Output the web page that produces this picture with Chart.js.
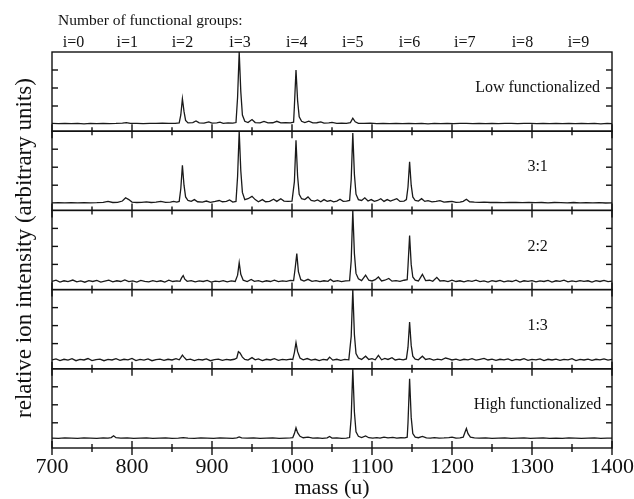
<!DOCTYPE html>
<html>
<head>
<meta charset="utf-8">
<script src="https://cdn.jsdelivr.net/npm/chart.js@4.4.1/dist/chart.umd.min.js"></script>
<style>
  html, body { margin: 0; padding: 0; background: #fff; }
  #wrap { width: 634px; height: 499px; position: relative; }
</style>
</head>
<body>
<div id="wrap"><canvas id="spectra"></canvas></div>
<script>
// mass range and tick marks (u)
const massMin = 700;
const massMax = 1400;
const massTicks = [700, 750, 800, 850, 900, 950, 1000, 1050, 1100, 1150, 1200, 1250, 1300, 1350, 1400];

// top axis: number of functional groups
const groupMass = [727, 794, 863, 935, 1006, 1076, 1147, 1216, 1288, 1358];
const groupLabels = ['i=0', 'i=1', 'i=2', 'i=3', 'i=4', 'i=5', 'i=6', 'i=7', 'i=8', 'i=9'];

// panels, top to bottom
const panelLabels = ['Low functionalized', '3:1', '2:2', '1:3', 'High functionalized'];
const labelMass = 1307;
const labelLevel = 2;
const yTickValues = [1, 2, 3];

// spectra as [mass, intensity]
const lowFunc = [[700,.03],[708,.02],[716,.04],[724,.02],[732,.03],[740,.01],[748,.03],[756,.02],[764,.04],[772,.02],[780,.03],[788,.05],[793,.08],[798,.03],[806,.04],[814,.02],[822,.04],[830,.03],[838,.05],[846,.03],[854,.04],[859,.06],[861,.5],[863,1.4],[865,.7],[867,.2],[870,.06],[876,.08],[880,.17],[884,.06],[890,.05],[896,.12],[900,.05],[906,.06],[910,.1],[914,.04],[920,.06],[926,.05],[930,.08],[932,1.5],[934,4.0],[936,1.8],[938,.5],[941,.15],[945,.08],[950,.25],[954,.08],[960,.06],[965,.14],[970,.06],[976,.07],[981,.15],[986,.06],[992,.08],[998,.06],[1002,.1],[1003,1.0],[1005,3.0],[1007,1.3],[1009,.4],[1012,.15],[1016,.08],[1021,.16],[1026,.06],[1031,.07],[1036,.12],[1040,.05],[1046,.06],[1050,.09],[1056,.04],[1062,.05],[1068,.04],[1073,.08],[1076,.32],[1079,.12],[1083,.04],[1090,.03],[1098,.05],[1106,.02],[1114,.03],[1122,.02],[1130,.04],[1138,.02],[1146,.03],[1154,.02],[1162,.03],[1170,.01],[1178,.03],[1186,.02],[1194,.04],[1202,.02],[1210,.03],[1218,.03],[1226,.02],[1234,.04],[1242,.02],[1250,.03],[1258,.02],[1266,.04],[1274,.03],[1282,.02],[1290,.04],[1298,.03],[1306,.02],[1314,.03],[1322,.02],[1330,.04],[1338,.02],[1346,.03],[1354,.02],[1362,.03],[1370,.02],[1378,.03],[1386,.01],[1394,.03],[1400,.02]];

const mix31 = [[700,.02],[708,.03],[716,.02],[724,.03],[732,.02],[740,.03],[748,.02],[756,.03],[764,.05],[770,.1],[776,.04],[782,.05],[788,.12],[792,.3],[796,.2],[800,.06],[806,.04],[812,.05],[818,.07],[824,.04],[830,.06],[836,.1],[842,.05],[848,.06],[852,.1],[856,.06],[859,.1],[861,.8],[863,2.1],[865,1.0],[867,.35],[870,.15],[874,.1],[878,.2],[882,.08],[888,.06],[893,.12],[898,.05],[904,.1],[909,.15],[913,.08],[918,.1],[922,.18],[926,.06],[930,.1],[932,1.5],[934,4.0],[936,1.8],[938,.6],[941,.2],[945,.25],[950,.38],[954,.2],[958,.08],[963,.2],[967,.08],[972,.1],[977,.22],[981,.1],[986,.25],[990,.12],[995,.1],[1000,.12],[1003,1.2],[1005,3.5],[1007,1.5],[1009,.5],[1012,.25],[1016,.2],[1020,.35],[1024,.15],[1028,.12],[1032,.18],[1036,.08],[1040,.2],[1044,.1],[1048,.15],[1052,.08],[1056,.12],[1060,.22],[1064,.1],[1068,.12],[1072,.15],[1074,1.3],[1076,3.9],[1078,1.6],[1080,.5],[1083,.2],[1087,.15],[1091,.3],[1095,.12],[1099,.2],[1103,.1],[1107,.15],[1111,.25],[1115,.1],[1119,.2],[1123,.12],[1127,.18],[1131,.25],[1135,.1],[1140,.12],[1143,.2],[1145,.9],[1147,2.3],[1149,1.0],[1151,.35],[1154,.15],[1158,.12],[1162,.25],[1166,.1],[1170,.14],[1175,.07],[1180,.1],[1185,.14],[1190,.06],[1195,.08],[1200,.1],[1205,.05],[1210,.06],[1214,.1],[1218,.22],[1222,.08],[1228,.06],[1234,.05],[1240,.06],[1248,.04],[1256,.05],[1264,.03],[1272,.05],[1280,.04],[1288,.03],[1296,.05],[1304,.03],[1312,.04],[1320,.02],[1328,.04],[1336,.03],[1344,.02],[1352,.04],[1360,.02],[1368,.03],[1376,.02],[1384,.03],[1392,.01],[1400,.02]];

const mix22 = [[700,.06],[705,.12],[710,.02],[715,.09],[720,.04],[726,.13],[731,.03],[736,.08],[741,.01],[746,.1],[751,.05],[756,.11],[761,.02],[766,.07],[771,.12],[776,.03],[781,.09],[786,.05],[791,.14],[796,.04],[801,.08],[806,.02],[811,.11],[816,.06],[821,.03],[826,.1],[831,.04],[836,.09],[841,.02],[846,.12],[851,.05],[856,.08],[860,.06],[862,.25],[864,.38],[866,.18],[869,.06],[874,.1],[879,.03],[884,.08],[889,.05],[894,.11],[899,.02],[904,.07],[909,.04],[914,.1],[919,.03],[924,.08],[929,.05],[932,.4],[934,1.1],[936,.45],[939,.12],[944,.05],[949,.16],[953,.06],[958,.1],[963,.03],[968,.09],[973,.05],[978,.12],[983,.04],[988,.08],[993,.06],[998,.11],[1002,.1],[1004,.8],[1006,1.6],[1008,.6],[1011,.15],[1015,.07],[1020,.17],[1025,.06],[1030,.1],[1035,.04],[1040,.09],[1045,.06],[1048,.17],[1052,.05],[1057,.1],[1062,.04],[1067,.08],[1072,.1],[1074,1.2],[1076,4.0],[1078,1.6],[1080,.5],[1083,.2],[1087,.1],[1092,.4],[1096,.12],[1100,.08],[1104,.15],[1108,.3],[1112,.08],[1116,.12],[1121,.22],[1125,.07],[1130,.1],[1135,.06],[1140,.12],[1144,.15],[1145,.9],[1147,2.6],[1149,1.0],[1151,.3],[1154,.12],[1158,.08],[1163,.45],[1167,.1],[1172,.12],[1176,.06],[1181,.28],[1185,.08],[1190,.1],[1195,.04],[1200,.12],[1205,.05],[1210,.09],[1215,.03],[1220,.1],[1225,.06],[1230,.12],[1235,.04],[1240,.08],[1245,.02],[1250,.1],[1255,.05],[1260,.11],[1265,.03],[1270,.08],[1275,.05],[1280,.12],[1285,.02],[1290,.09],[1295,.06],[1300,.1],[1305,.03],[1310,.08],[1315,.05],[1320,.11],[1325,.02],[1330,.09],[1335,.06],[1340,.12],[1345,.03],[1350,.08],[1355,.04],[1360,.1],[1365,.06],[1370,.09],[1375,.02],[1380,.1],[1385,.05],[1390,.11],[1395,.04],[1400,.07]];

const mix13 = [[700,.1],[705,.15],[710,.06],[715,.13],[720,.08],[725,.16],[730,.05],[735,.12],[740,.09],[745,.17],[750,.06],[755,.11],[760,.14],[765,.05],[770,.12],[775,.09],[780,.16],[785,.07],[790,.13],[795,.1],[800,.18],[805,.06],[810,.12],[815,.08],[820,.15],[825,.05],[830,.11],[835,.14],[840,.07],[845,.13],[850,.09],[855,.16],[859,.1],[861,.22],[863,.36],[865,.25],[868,.1],[873,.14],[878,.06],[883,.12],[888,.09],[893,.15],[898,.05],[903,.11],[908,.14],[913,.07],[918,.12],[923,.09],[928,.13],[931,.2],[933,.55],[935,.48],[938,.25],[941,.12],[945,.08],[950,.22],[954,.1],[958,.15],[963,.06],[968,.13],[973,.09],[978,.16],[983,.07],[988,.12],[993,.1],[998,.14],[1001,.12],[1003,.5],[1005,1.05],[1007,.55],[1010,.2],[1014,.1],[1019,.17],[1024,.08],[1029,.13],[1034,.06],[1039,.12],[1044,.09],[1047,.25],[1051,.08],[1056,.13],[1061,.07],[1066,.12],[1071,.1],[1074,1.4],[1076,4.0],[1078,1.5],[1080,.45],[1083,.2],[1087,.12],[1092,.3],[1096,.12],[1100,.16],[1104,.1],[1108,.35],[1112,.1],[1116,.18],[1120,.12],[1125,.22],[1129,.09],[1134,.14],[1139,.1],[1143,.15],[1145,.8],[1147,2.2],[1149,.9],[1151,.3],[1154,.14],[1158,.1],[1163,.3],[1167,.12],[1172,.16],[1177,.08],[1182,.14],[1187,.1],[1192,.2],[1196,.15],[1200,.09],[1205,.14],[1210,.07],[1215,.13],[1220,.1],[1225,.16],[1230,.08],[1235,.13],[1240,.18],[1245,.09],[1250,.14],[1255,.07],[1260,.13],[1265,.1],[1270,.15],[1275,.06],[1280,.12],[1285,.09],[1290,.16],[1295,.07],[1300,.12],[1305,.1],[1310,.15],[1315,.06],[1320,.13],[1325,.09],[1330,.14],[1335,.07],[1340,.12],[1345,.1],[1350,.16],[1355,.06],[1360,.12],[1365,.09],[1370,.14],[1375,.07],[1380,.13],[1385,.1],[1390,.15],[1395,.08],[1400,.12]];

const highFunc = [[700,.15],[708,.14],[716,.16],[724,.15],[732,.14],[740,.16],[748,.15],[756,.14],[764,.16],[770,.15],[774,.18],[777,.28],[780,.17],[786,.15],[794,.16],[802,.14],[810,.15],[818,.16],[826,.14],[834,.15],[842,.16],[850,.14],[858,.15],[864,.18],[870,.15],[878,.14],[886,.16],[894,.15],[902,.14],[910,.16],[918,.15],[926,.14],[931,.16],[934,.22],[937,.16],[944,.15],[952,.16],[960,.14],[968,.15],[976,.16],[984,.14],[992,.15],[998,.16],[1001,.18],[1003,.4],[1005,.72],[1007,.45],[1010,.25],[1014,.17],[1020,.2],[1026,.15],[1032,.16],[1038,.14],[1044,.16],[1047,.24],[1050,.15],[1056,.16],[1062,.14],[1068,.15],[1072,.18],[1074,1.3],[1076,4.0],[1078,1.6],[1080,.5],[1083,.25],[1087,.18],[1092,.27],[1096,.17],[1101,.15],[1106,.18],[1110,.15],[1115,.2],[1120,.16],[1126,.19],[1131,.15],[1136,.17],[1141,.16],[1144,.2],[1145,1.0],[1147,3.45],[1149,1.3],[1151,.4],[1154,.2],[1158,.17],[1163,.24],[1168,.16],[1173,.15],[1178,.18],[1184,.15],[1190,.16],[1196,.18],[1200,.2],[1205,.15],[1210,.16],[1214,.2],[1216,.45],[1218,.68],[1220,.4],[1223,.2],[1228,.16],[1234,.15],[1242,.16],[1250,.14],[1258,.15],[1266,.16],[1274,.14],[1282,.15],[1290,.16],[1298,.14],[1306,.15],[1314,.16],[1322,.14],[1330,.15],[1338,.14],[1346,.16],[1354,.15],[1362,.14],[1370,.15],[1378,.16],[1386,.14],[1394,.15],[1400,.15]];

const spectra = [lowFunc, mix31, mix22, mix13, highFunc];
const panelIds = ['y0', 'y1', 'y2', 'y3', 'y4'];

const serif = '"Liberation Serif", "Times New Roman", serif';
const ink = '#111';

// frame, panel separators, inward ticks, panel captions and free titles
const panelFrame = {
    id: 'panelFrame',
    afterDatasetsDraw(chart) {
        const { ctx, chartArea: a, scales } = chart;
        const x = scales.x;
        ctx.save();
        ctx.strokeStyle = ink;
        ctx.lineWidth = 1.4;
        const seg = (x1, y1, x2, y2) => {
            ctx.beginPath();
            ctx.moveTo(x1, y1);
            ctx.lineTo(x2, y2);
            ctx.stroke();
        };
        panelIds.forEach((id, k) => {
            const s = scales[id];
            ctx.strokeRect(a.left, s.top, a.right - a.left, s.bottom - s.top);
            yTickValues.forEach(v => {
                const py = s.getPixelForValue(v);
                seg(a.left, py, a.left + 6, py);
                seg(a.right - 6, py, a.right, py);
            });
            massTicks.forEach(m => {
                const px = x.getPixelForValue(m);
                const len = m % 100 === 0 ? 7 : 4;
                seg(px, s.bottom - len, px, s.bottom + len);
            });
            ctx.fillStyle = ink;
            ctx.font = '16px ' + serif;
            ctx.textAlign = 'center';
            ctx.textBaseline = 'middle';
            ctx.fillText(panelLabels[k], x.getPixelForValue(labelMass), s.getPixelForValue(labelLevel));
        });
        ctx.restore();
    },
    afterDraw(chart) {
        const { ctx, chartArea: a } = chart;
        ctx.save();
        ctx.fillStyle = ink;
        ctx.font = '15.5px ' + serif;
        ctx.textAlign = 'left';
        ctx.textBaseline = 'middle';
        ctx.fillText('Number of functional groups:', a.left + 6, 21);
        ctx.translate(25, (a.top + a.bottom) / 2 - 2);
        ctx.rotate(-Math.PI / 2);
        ctx.font = '23px ' + serif;
        ctx.textAlign = 'center';
        ctx.fillText('relative ion intensity (arbitrary units)', 0, 0);
        ctx.restore();
    }
};

const scales = {
    x: {
        type: 'linear',
        position: 'bottom',
        min: massMin,
        max: massMax,
        grid: { display: false, drawTicks: false },
        border: { display: false },
        ticks: {
            stepSize: 100,
            autoSkip: false,
            maxRotation: 0,
            padding: 6,
            color: ink,
            font: { family: serif, size: 22 },
            callback: v => String(v)
        },
        title: {
            display: true,
            text: 'mass (u)',
            color: ink,
            font: { family: serif, size: 22, lineHeight: 1.1 },
            padding: { top: 0, bottom: -1 }
        },
        afterFit(s) {
            s.height = 51;
            s.paddingLeft = 0;
            s.paddingRight = 0;
        }
    },
    xTop: {
        type: 'linear',
        position: 'top',
        min: massMin,
        max: massMax,
        grid: { display: false, drawTicks: false },
        border: { display: false },
        afterBuildTicks(s) {
            s.ticks = groupMass.map(v => ({ value: v }));
        },
        ticks: {
            autoSkip: false,
            maxRotation: 0,
            padding: 0,
            color: ink,
            font: { family: serif, size: 16 },
            callback: (v, i) => groupLabels[i]
        },
        afterFit(s) {
            s.height = 52;
            s.paddingLeft = 0;
            s.paddingRight = 0;
        }
    }
};

panelIds.forEach((id, k) => {
    scales[id] = {
        type: 'linear',
        position: 'left',
        stack: 'panels',
        stackWeight: 1,
        weight: panelIds.length - k,
        min: -0.4,
        max: 4,
        grid: { display: false, drawTicks: false },
        border: { display: false },
        ticks: { display: false },
        afterFit(s) { s.width = 52; }
    };
});

new Chart(document.getElementById('spectra'), {
    type: 'line',
    data: {
        datasets: spectra.map((pts, k) => ({
            label: panelLabels[k],
            data: pts.map(p => ({ x: p[0], y: p[1] })),
            xAxisID: 'x',
            yAxisID: panelIds[k],
            borderColor: '#1a1a1a',
            borderWidth: 1.3,
            pointRadius: 0,
            tension: 0,
            fill: false
        }))
    },
    options: {
        responsive: true,
        maintainAspectRatio: false,
        animation: false,
        parsing: false,
        layout: { padding: { left: 0, right: 22, top: 0, bottom: 0 } },
        plugins: {
            legend: { display: false },
            tooltip: { enabled: false }
        },
        scales
    },
    plugins: [panelFrame]
});
</script>
</body>
</html>
